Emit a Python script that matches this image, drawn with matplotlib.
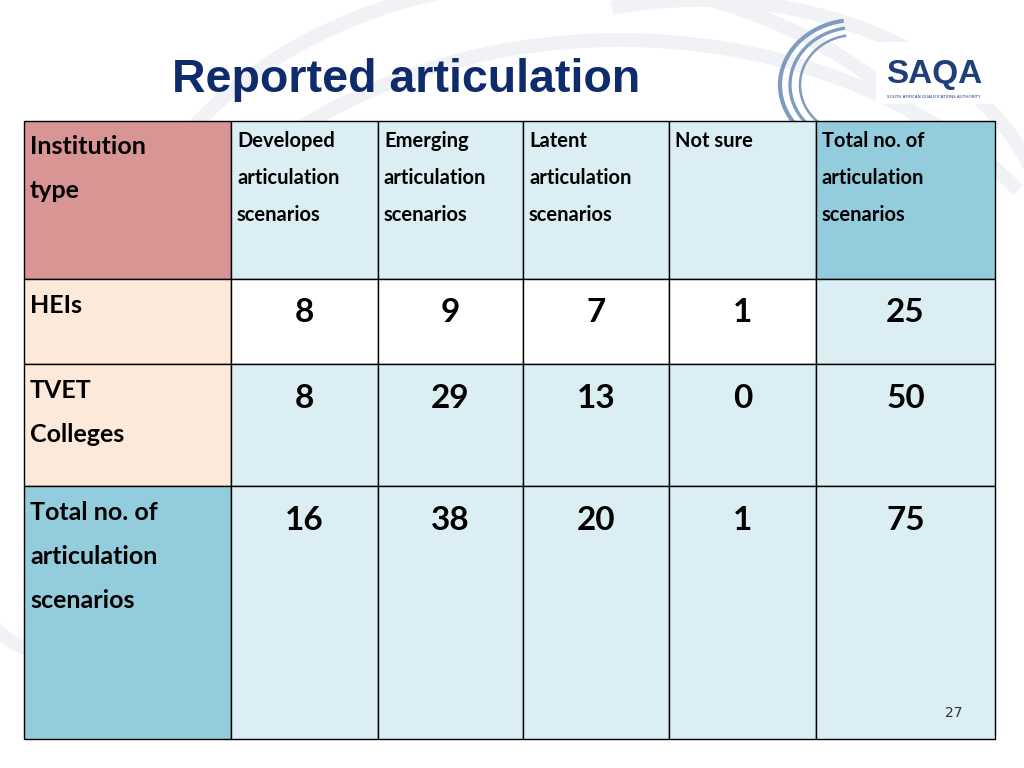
import matplotlib.pyplot as plt
from matplotlib.patches import Rectangle, Arc

header = ["Institution\ntype", "Developed\narticulation\nscenarios", "Emerging\narticulation\nscenarios",
          "Latent\narticulation\nscenarios", "Not sure", "Total no. of\narticulation\nscenarios"]
row_labels = ["HEIs", "TVET\nColleges", "Total no. of\narticulation\nscenarios"]
values = [[8, 9, 7, 1, 25],
          [8, 29, 13, 0, 50],
          [16, 38, 20, 1, 75]]

col_x = [24, 231, 378, 523, 669, 816, 995]
row_y = [121, 279, 364, 486, 739]

light = "#DBEEF3"
mid = "#93CDDD"
peach = "#FDE9D9"
pink = "#D99594"
header_colors = [pink, light, light, light, light, mid]
row_colors = [
    [peach, "white", "white", "white", "white", light],
    [peach, light, light, light, light, light],
    [mid, light, light, light, light, light],
]

fig = plt.figure(figsize=(10.24, 7.68), dpi=100)
ax = fig.add_axes([0, 0, 1, 1])
ax.set_xlim(0, 1024)
ax.set_ylim(768, 0)
ax.axis("off")

# faint background swirls
for (cx, cy, w, h, t1, t2) in [(560, 330, 900, 700, 200, 340), (620, 420, 1000, 760, 190, 330),
                               (40, 300, 260, 700, 90, 270), (700, 250, 700, 500, 250, 360)]:
    ax.add_patch(Arc((cx, cy), w, h, theta1=t1, theta2=t2, color="#F0F2F6", lw=10, zorder=0))

ax.text(172, 80, "Reported articulation", fontsize=33.5, fontweight="bold", color="#0E2B6B",
        family="Liberation Sans", va="center", ha="left")

# logo
for i, (w, h) in enumerate([(150, 130), (130, 115), (110, 100)]):
    ax.add_patch(Arc((855, 85), w, h, theta1=100, theta2=260, color="#7F9CC0", lw=3 - i * 0.6, zorder=1))
ax.add_patch(Rectangle((876, 42), 118, 62, facecolor="white", edgecolor="none", zorder=1))
ax.text(934, 74, "SAQA", fontsize=24, fontweight="bold", color="#1F3F7A", family="Liberation Sans",
        ha="center", va="center", zorder=2)
ax.text(934, 96, "SOUTH AFRICAN QUALIFICATIONS AUTHORITY", fontsize=3, color="#1F3F7A",
        ha="center", va="center", zorder=2)

fnt = "Lato"
for c in range(6):
    x0, x1 = col_x[c], col_x[c + 1]
    y0, y1 = row_y[0], row_y[1]
    ax.add_patch(Rectangle((x0, y0), x1 - x0, y1 - y0, facecolor=header_colors[c],
                           edgecolor="black", lw=1, zorder=3))
    if c == 0:
        ax.text(x0 + 6, y0 + 14, header[c], fontsize=18, fontweight="bold", family=fnt,
                va="top", ha="left", linespacing=2.1, zorder=4)
    else:
        ax.text(x0 + 6, y0 + 10, header[c], fontsize=14.5, fontweight="bold", family=fnt,
                va="top", ha="left", linespacing=2.05, zorder=4)

for r in range(3):
    y0, y1 = row_y[r + 1], row_y[r + 2]
    for c in range(6):
        x0, x1 = col_x[c], col_x[c + 1]
        ax.add_patch(Rectangle((x0, y0), x1 - x0, y1 - y0, facecolor=row_colors[r][c],
                               edgecolor="black", lw=1, zorder=3))
        if c == 0:
            ax.text(x0 + 6, y0 + 15, row_labels[r], fontsize=18, fontweight="bold", family=fnt,
                    va="top", ha="left", linespacing=2.1, zorder=4)
        else:
            ax.text((x0 + x1) / 2, y0 + 34, str(values[r][c - 1]), fontsize=24, fontweight="bold",
                    family=fnt, va="center", ha="center", zorder=4)

ax.text(954, 713, "27", fontsize=10, color="#333333", ha="center", va="center", zorder=5)

fig.savefig("out.png", dpi=100)
